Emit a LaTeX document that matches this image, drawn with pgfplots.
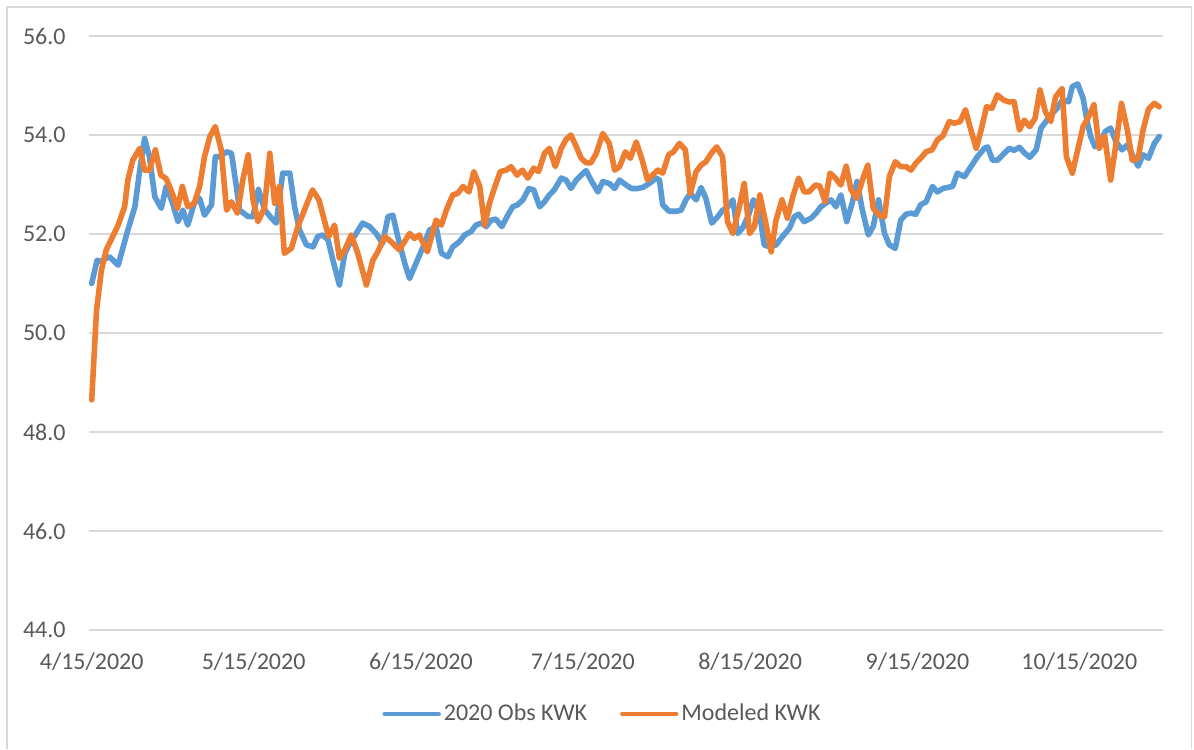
\documentclass[border=0pt]{standalone}
\usepackage{pgfplots}
\pgfplotsset{compat=1.18}
\usepackage{fontspec}
\setmainfont{Carlito}
\definecolor{obsblue}{HTML}{5B9BD5}
\definecolor{modorange}{HTML}{ED7D31}
\definecolor{txtgray}{HTML}{595959}
\definecolor{gridgray}{HTML}{D9D9D9}
\begin{document}
\begin{tikzpicture}
\path (0,0) rectangle (597pt,374.5pt);
\draw[gridgray,line width=0.8pt] (3.5pt,0) -- (3.5pt,371pt) -- (595.75pt,371pt) -- (595.75pt,0);
\begin{axis}[
  at={(44.5pt,59.5pt)}, anchor=south west,
  width=537pt, height=297pt, scale only axis,
  xmin=-0.5, xmax=198.5, ymin=44, ymax=56,
  xtick={0,30,61,91,122,153,183},
  xticklabels={4/15/2020,5/15/2020,6/15/2020,7/15/2020,8/15/2020,9/15/2020,10/15/2020},
  ytick={44,46,48,50,52,54,56},
  /pgf/number format/assume math mode=true,
  yticklabel style={/pgf/number format/fixed,/pgf/number format/fixed zerofill,/pgf/number format/precision=1},
  tick label style={font=\fontsize{12}{14}\selectfont, text=txtgray, inner sep=0pt},
  x tick label style={anchor=center, yshift=-16pt},
  y tick label style={anchor=east, xshift=-11.5pt},
  major tick length=0pt,
  axis line style={draw=none},
  ymajorgrids, grid style={gridgray, line width=0.8pt},
  clip=false,
  legend columns=2,
  legend style={draw=none, fill=none, at={(0.4786,-0.1414)}, anchor=center,
    font=\fontsize{12}{14}\selectfont, text=txtgray,
    nodes={inner xsep=1.5pt, inner ysep=1pt},
    /tikz/every even column/.append style={column sep=15pt}},
  legend image code/.code={\draw[#1, line width=2.2pt, line cap=round] (0pt,0pt) -- (27pt,0pt);},
]
\draw[gridgray, line width=0.8pt] (axis cs:-0.5,44) -- (axis cs:198.5,44);
\addplot[obsblue, line width=2.8pt, line join=round, line cap=round] coordinates {
(0,51.0)(1,51.47)(1.5,51.44)(3.3,51.54)(4.9,51.37)(6.7,52.08)(8,52.55)(8.9,53.29)(9.8,53.93)(10.7,53.56)
(11.7,52.75)(12.9,52.52)(13.8,52.96)(15,52.62)(16,52.25)(16.9,52.48)(17.8,52.18)(19,52.62)(20,52.72)(20.9,52.38)
(22.2,52.59)(22.9,53.56)(23.7,53.56)(25,53.66)(25.9,53.63)(26.8,52.96)(27.4,52.48)(29,52.35)(29.9,52.35)(30.9,52.9)
(32,52.5)(33.3,52.32)(34.2,52.22)(35.4,53.23)(36.7,53.23)(37.6,52.55)(38.5,52.08)(39.8,51.78)(41,51.74)(41.9,51.95)
(42.8,51.98)(43.8,51.88)(44.7,51.47)(45.9,50.97)(46.9,51.61)(47.8,51.81)(49,52.01)(50.2,52.22)(51.5,52.15)(52.7,52.01)
(53.9,51.81)(54.9,52.35)(55.8,52.38)(56.7,51.95)(58,51.41)(58.9,51.10)(60.1,51.41)(61.4,51.74)(62.6,52.08)(63.8,52.15)
(64.8,51.61)(66,51.54)(66.9,51.74)(68.1,51.84)(69.1,51.98)(70.3,52.05)(71.2,52.18)(72.2,52.22)(73.1,52.15)(74,52.28)
(74.9,52.30)(76,52.15)(77.1,52.38)(78,52.55)(78.9,52.59)(79.9,52.69)(81,52.92)(81.9,52.89)(83,52.55)(83.9,52.65)
(84.8,52.79)(85.7,52.89)(87,53.13)(87.9,53.09)(88.8,52.92)(89.8,53.09)(90.7,53.19)(91.6,53.28)(92.5,53.09)(93.8,52.85)
(94.7,53.06)(95.9,53.02)(96.9,52.92)(97.8,53.09)(99,52.99)(100,52.92)(101.2,52.92)(102.1,52.94)(103.3,53.02)(104.6,53.13)
(105.2,53.09)(105.8,52.59)(107,52.46)(108.3,52.46)(109.2,52.48)(110.1,52.69)(110.9,52.82)(112,52.69)(112.9,52.94)(113.8,52.72)
(114.9,52.22)(116,52.35)(116.9,52.48)(117.8,52.54)(118.8,52.69)(119.7,52.01)(120.6,52.12)(121.7,52.38)(122.6,52.69)(123.7,52.45)
(124.6,51.78)(125.6,51.74)(126.8,51.78)(128,51.95)(129.3,52.12)(130.2,52.35)(131,52.40)(132,52.25)(133.3,52.32)(134.2,52.42)
(135.1,52.55)(136,52.62)(137,52.69)(137.9,52.55)(138.8,52.79)(139.9,52.25)(140.9,52.62)(141.8,53.06)(142.8,52.48)(143.9,51.98)
(144.8,52.15)(145.8,52.69)(146.9,52.01)(147.8,51.78)(148.9,51.71)(149.9,52.28)(150.9,52.40)(151.8,52.42)(152.7,52.40)(153.6,52.59)
(154.6,52.65)(155.8,52.96)(156.7,52.85)(157.7,52.92)(158.6,52.94)(159.5,52.96)(160.4,53.23)(161.7,53.16)(162.9,53.36)(164.1,53.56)
(165.4,53.73)(166,53.76)(166.9,53.49)(167.8,53.49)(169.1,53.63)(170,53.73)(170.9,53.69)(171.9,53.75)(172.8,53.64)(173.8,53.55)
(175,53.70)(175.9,54.14)(176.8,54.27)(178,54.44)(178.9,54.54)(179.9,54.71)(181,54.67)(181.7,54.98)(182.7,55.03)(183.7,54.74)
(184.5,54.24)(185.1,53.97)(185.9,53.76)(186.7,53.83)(187.8,54.07)(188.8,54.14)(189.8,53.86)(190.9,53.70)(191.9,53.80)(192.8,53.60)
(193.9,53.37)(194.8,53.60)(195.8,53.53)(196.9,53.83)(197.8,53.97)
};
\addlegendentry{2020 Obs KWK}
\addplot[modorange, line width=2.8pt, line join=round, line cap=round] coordinates {
(0,48.65)(0.9,50.46)(1.8,51.27)(2.7,51.68)(3.9,51.95)(4.9,52.18)(6.1,52.55)(6.7,53.09)(7.6,53.49)(8.9,53.73)
(9.8,53.29)(10.7,53.29)(11.8,53.70)(12.8,53.19)(13.8,53.12)(14.7,52.89)(15.9,52.52)(16.8,52.96)(17.8,52.55)(19,52.62)
(20,52.96)(20.9,53.56)(21.9,53.97)(22.9,54.17)(24,53.70)(25,52.48)(25.9,52.65)(27,52.42)(28,53.09)(29,53.60)
(29.9,52.69)(30.8,52.25)(32,52.52)(33,53.63)(33.9,52.62)(34.8,52.96)(35.7,51.61)(37,51.71)(38.2,52.15)(39.4,52.48)
(40.9,52.89)(42.1,52.69)(43.1,52.28)(43.9,51.95)(45,52.18)(45.9,51.51)(46.9,51.68)(48.1,51.98)(49.3,51.61)(50.9,50.97)
(52.1,51.47)(53,51.64)(54.3,51.95)(55.5,51.84)(57,51.68)(58.9,52.01)(59.8,51.91)(60.7,51.98)(62.2,51.64)(63.8,52.28)
(64.8,52.18)(65.7,52.48)(66.9,52.79)(67.8,52.82)(68.8,52.96)(69.9,52.85)(70.8,53.26)(71.9,52.96)(72.8,52.18)(73.7,52.62)
(74.6,52.92)(75.7,53.26)(76.8,53.29)(77.7,53.36)(78.8,53.19)(79.8,53.29)(80.8,53.13)(81.9,53.33)(82.8,53.26)(83.9,53.63)
(84.8,53.73)(85.9,53.36)(87,53.73)(87.9,53.91)(88.8,54.00)(89.8,53.76)(90.7,53.53)(91.6,53.44)(92.5,53.44)(93.5,53.63)
(94.7,54.03)(95.9,53.83)(96.9,53.29)(97.8,53.36)(98.9,53.66)(99.8,53.53)(100.9,53.86)(102,53.49)(103,53.09)(103.9,53.19)
(104.9,53.29)(105.8,53.23)(106.9,53.60)(107.8,53.66)(108.9,53.83)(110,53.70)(110.9,52.82)(112,53.26)(112.9,53.39)(113.8,53.46)
(114.8,53.63)(115.8,53.76)(116.9,53.56)(117.8,52.25)(118.8,52.01)(120,52.55)(120.9,53.02)(121.9,52.01)(122.8,52.15)(123.8,52.79)
(124.9,52.22)(125.9,51.64)(126.8,52.28)(127.9,52.69)(128.9,52.32)(129.9,52.75)(131,53.13)(132,52.85)(132.9,52.85)(134.1,52.99)
(134.9,52.97)(135.9,52.65)(136.8,53.23)(137.8,53.13)(138.8,52.99)(139.8,53.37)(140.7,52.89)(141.8,52.72)(142.8,53.09)(143.8,53.39)
(144.8,52.52)(145.9,52.38)(146.9,52.35)(147.8,53.16)(148.9,53.46)(149.9,53.36)(150.9,53.36)(151.8,53.29)(152.7,53.43)(153.6,53.53)
(154.6,53.66)(155.7,53.70)(156.7,53.90)(157.7,53.98)(158.9,54.27)(159.8,54.24)(160.9,54.27)(161.9,54.51)(162.9,54.10)(163.9,53.73)
(164.8,54.10)(165.8,54.57)(166.8,54.54)(167.8,54.81)(168.9,54.71)(169.9,54.67)(170.9,54.67)(171.9,54.10)(172.8,54.30)(173.8,54.17)
(174.8,54.34)(175.7,54.91)(176.7,54.47)(177.7,54.27)(178.6,54.77)(179.8,54.94)(180.6,53.56)(181.7,53.23)(182.7,53.70)(183.7,54.17)
(184.7,54.37)(185.7,54.61)(186.7,53.73)(187.7,53.97)(188.8,53.09)(189.8,53.83)(190.8,54.64)(191.9,54.10)(192.8,53.49)(193.9,53.53)
(194.8,54.10)(195.8,54.52)(196.9,54.64)(197.8,54.57)
};
\addlegendentry{Modeled KWK}
\end{axis}
\end{tikzpicture}
\end{document}
